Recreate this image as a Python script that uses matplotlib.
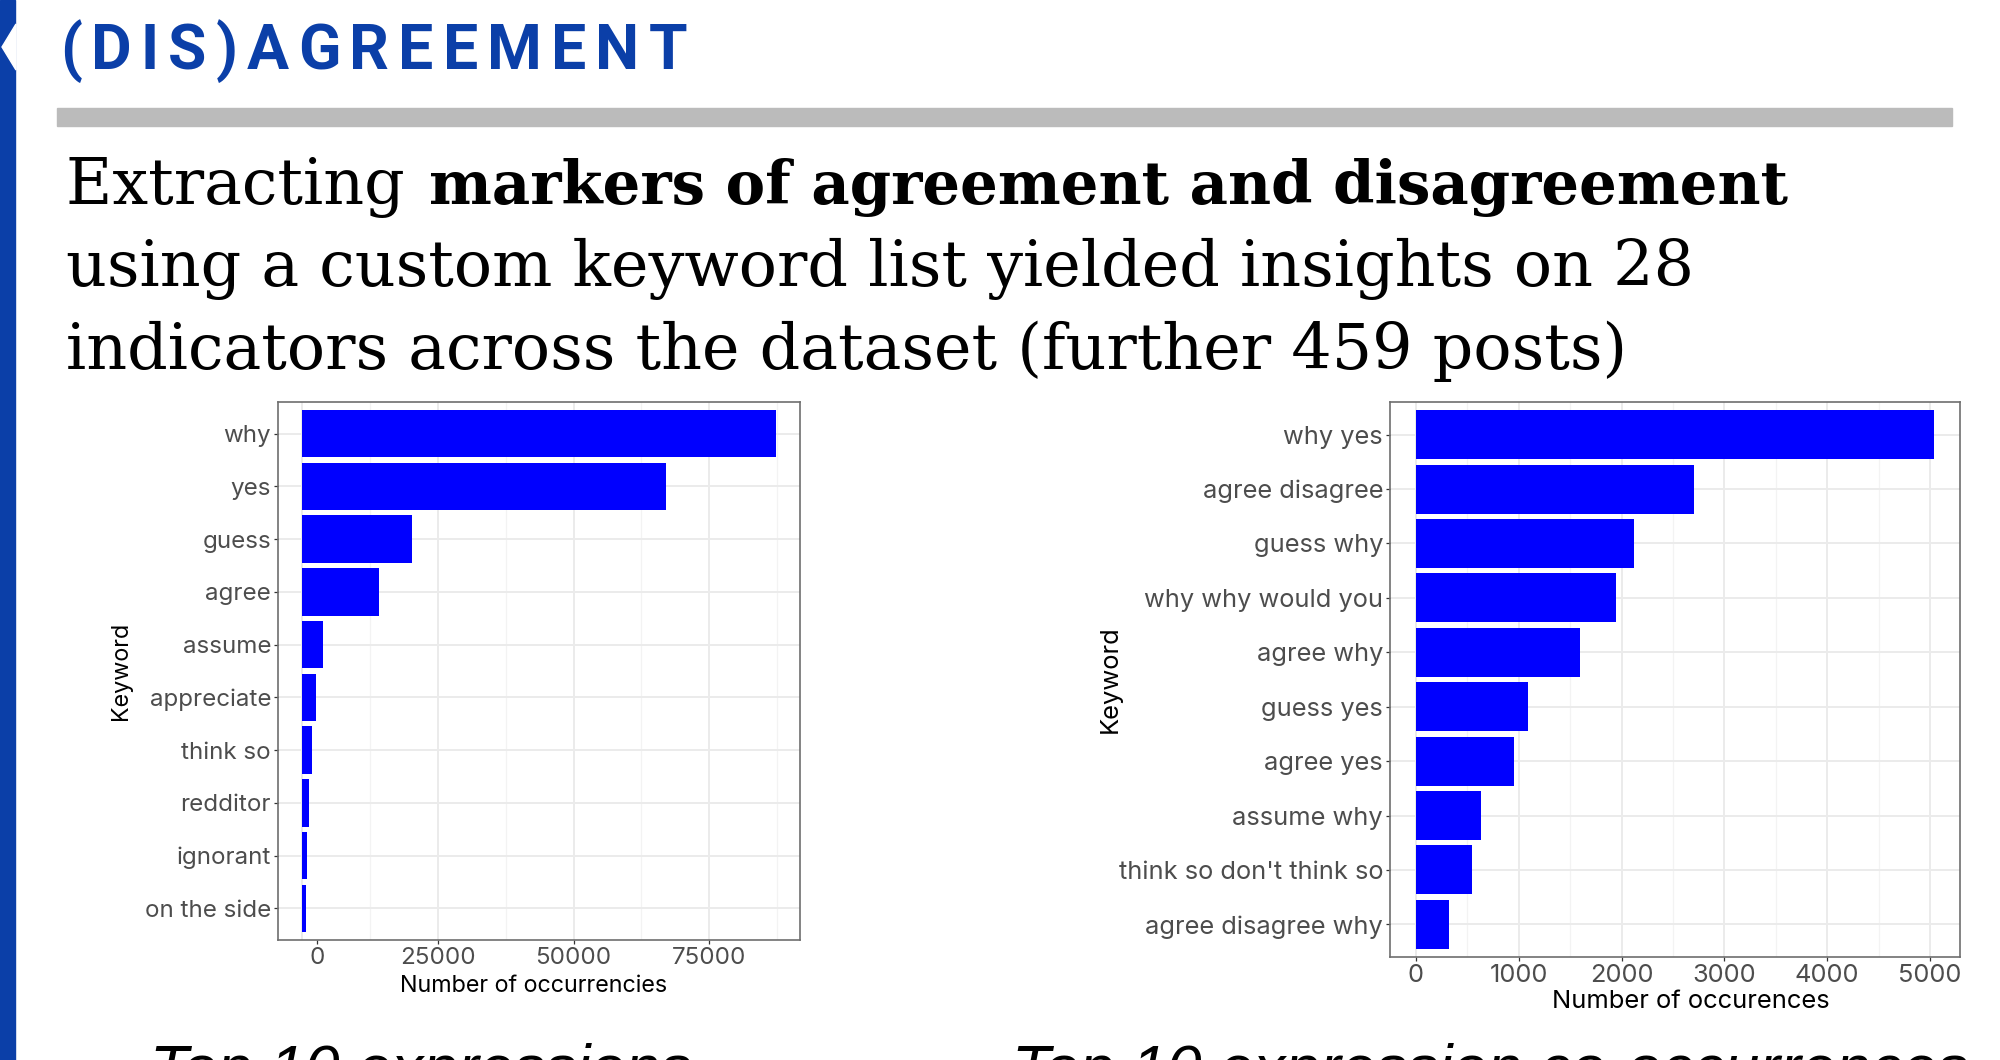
import matplotlib.pyplot as plt
from matplotlib.patches import Polygon, Rectangle

W, H = 2000, 1060

# left chart: top 10 single keywords
kw_labels = ["why", "yes", "guess", "agree", "assume", "appreciate",
             "think so", "redditor", "ignorant", "on the side"]
kw_counts = [87300, 67000, 20200, 14200, 3900, 2700, 1800, 1350, 950, 850]
kw_ticks = [0, 25000, 50000, 75000]
kw_tick_labels = ["0", "25000", "50000", "75000"]

# right chart: top 10 co-occurring expressions
pair_labels = ["why yes", "agree disagree", "guess why", "why why would you",
               "agree why", "guess yes", "agree yes", "assume why",
               "think so don't think so", "agree disagree why"]
pair_counts = [5040, 2700, 2125, 1950, 1595, 1095, 955, 630, 545, 325]
pair_ticks = [0, 1000, 2000, 3000, 4000, 5000]
pair_tick_labels = ["0", "1000", "2000", "3000", "4000", "5000"]

BAR_BLUE = "#0000ff"
DARK_BLUE = "#0b3fa8"

fig = plt.figure(figsize=(20, 10.6), dpi=100)
renderer = fig.canvas.get_renderer()


def px(x, y):
    """pixel position (from top-left) -> figure fraction"""
    return x / W, 1 - y / H


def text_width(s, size, **kw):
    t = fig.text(0, 0, s, fontsize=size, **kw)
    w = t.get_window_extent(renderer).width
    t.remove()
    return w


def fit_size(s, width, **kw):
    return 10 * width / text_width(s, 10, **kw)


def spaced_text(s, x0, x1, baseline, size, **kw):
    """draw s letter by letter so that it spans x0..x1 (letter spacing)"""
    widths = [text_width(ch, size, **kw) for ch in s]
    gap = (x1 - x0 - sum(widths)) / (len(s) - 1)
    x = x0
    for ch, w in zip(s, widths):
        fig.text(*px(x, baseline), ch, fontsize=size, va="baseline", **kw)
        x += w + gap


# slide decorations
fig.patches.append(Rectangle(px(0, H), 15 / W, 1, transform=fig.transFigure,
                             color=DARK_BLUE, zorder=0))
fig.patches.append(Polygon([px(16, 24), px(2, 47), px(16, 70)], closed=True,
                           transform=fig.transFigure, color="white", zorder=1))
fig.patches.append(Rectangle(px(57, 126), (1952 - 57) / W, 18 / H,
                             transform=fig.transFigure, color="#bbbbbb", zorder=0))

# header
spaced_text("(DIS)AGREEMENT", 60, 687, 69, 45, family="Roboto",
            weight="bold", color=DARK_BLUE)

serif = dict(family="DejaVu Serif", color="black")
line2 = "using a custom keyword list yielded insights on 28"
body = fit_size(line2, 1634, **serif)
first = "Extracting "
bold = "markers of agreement and disagreement"
fig.text(*px(66, 204), first, fontsize=body, va="baseline", **serif)
x_bold = 66 + text_width(first, body, **serif) + 4
bold_size = fit_size(bold, 1795 - x_bold, weight="bold", **serif)
fig.text(*px(x_bold, 204), bold, fontsize=bold_size, va="baseline",
         weight="bold", **serif)
fig.text(*px(66, 286), line2, fontsize=body, va="baseline", **serif)
fig.text(*px(66, 369), "indicators across the dataset (further 459 posts)",
         fontsize=body, va="baseline", **serif)

# captions below the charts (cut off by the slide edge)
cap = dict(family="Liberation Sans", style="italic", color="black")
cap_size = fit_size("Top 10 expressions", 545, **cap)
cap_base = 1044 + 0.716 * cap_size * 100 / 72
fig.text(*px(150, cap_base), "Top 10 expressions", fontsize=cap_size,
         va="baseline", **cap)
fig.text(*px(1012, cap_base), "Top 10 expression co-occurrences",
         fontsize=cap_size, va="baseline", **cap)


def bar_panel(left, top, right, bottom, labels, counts, ticks, tick_labels,
              xlabel, ylab_x, xlab_xy, tick_size, title_size, zero_shift=0.0):
    x0, y0 = px(left, bottom)
    ax = fig.add_axes([x0, y0, (right - left) / W, (bottom - top) / H])
    ypos = list(range(len(labels)))[::-1]
    ax.barh(ypos, counts, height=0.9, color=BAR_BLUE, zorder=3)
    ax.set_yticks(ypos, labels)
    ax.set_ylim(-0.6, len(labels) - 0.4)
    span = max(counts)
    ax.set_xlim(-0.05 * span, 1.05 * span)

    # ggplot-like grid: major lines at the breaks, minor lines half-way
    step = ticks[1] - ticks[0]
    for t in ticks:
        ax.axvline(t, color="#ebebeb", lw=1.4, zorder=0)
        ax.axvline(t + step / 2, color="#f3f3f3", lw=0.9, zorder=0)
    for y in ypos:
        ax.axhline(y, color="#ebebeb", lw=1.4, zorder=0)

    # the source chart draws its first x label a little right of zero
    shown = [ticks[0] + zero_shift] + list(ticks[1:])
    ax.set_xticks(shown, tick_labels)

    for s in ax.spines.values():
        s.set_color("#6e6e6e")
        s.set_linewidth(1.2)
        s.set_zorder(4)
    ax.tick_params(axis="both", length=3, width=0.9, color="#333333",
                   labelcolor="#4d4d4d", labelsize=tick_size, pad=2)
    for lab in ax.get_xticklabels() + ax.get_yticklabels():
        lab.set_family("Inter")
    ax.set_ylabel("Keyword", family="Inter", fontsize=title_size, color="black")
    ax.set_xlabel(xlabel, family="Inter", fontsize=title_size, color="black")
    ax.yaxis.set_label_coords(ylab_x, 0.5)
    ax.xaxis.set_label_coords(*xlab_xy)
    ax.xaxis.label.set_va("center")
    ax.yaxis.label.set_va("center")
    return ax


bar_panel(278, 402, 800, 940, kw_labels, kw_counts, kw_ticks, kw_tick_labels,
          "Number of occurrencies", -0.301, (0.49, -0.0855), 17.4, 16.8,
          zero_shift=2900)
bar_panel(1390, 402, 1960, 957, pair_labels, pair_counts, pair_ticks,
          pair_tick_labels, "Number of occurences", -0.491, (0.527, -0.081),
          18.3, 18.4)

fig.savefig("out.png", dpi=100)
